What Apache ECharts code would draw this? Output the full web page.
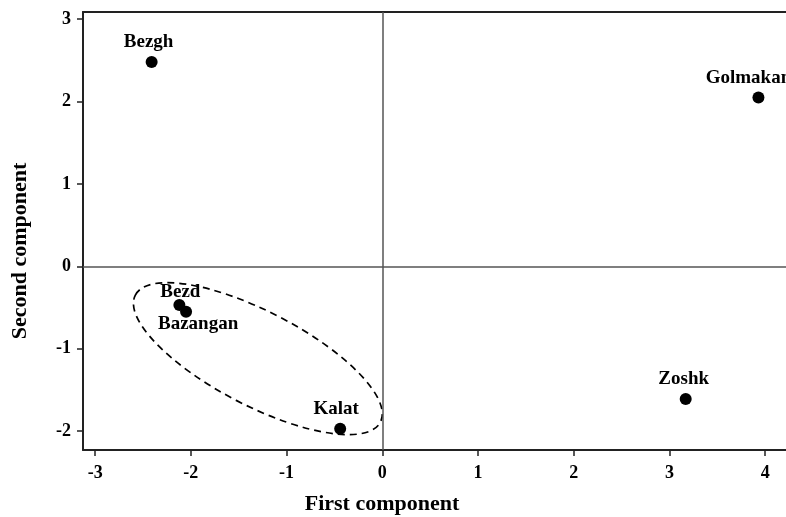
<!DOCTYPE html>
<html>
<head>
<meta charset="utf-8">
<script src="https://cdn.jsdelivr.net/npm/echarts@6/dist/echarts.min.js"></script>
<style>html,body{margin:0;padding:0;background:#fff;}#c{width:786px;height:517px;}</style>
</head>
<body>
<div id="c"></div>
<script>
const sites = ['Bezgh', 'Golmakan', 'Zoshk', 'Kalat', 'Bezd', 'Bazangan'];
const firstComponent = [-2.41, 3.93, 3.17, -0.44, -2.12, -2.05];
const secondComponent = [2.48, 2.05, -1.61, -1.97, -0.47, -0.55];
const xTicks = [-3, -2, -1, 0, 1, 2, 3, 4];
const yTicks = [-2, -1, 0, 1, 2, 3];
const groupCenter = [-1.30, -1.12];

const FONT = 'Liberation Serif';
const labelCfg = {
  Bezgh: {position: 'top', distance: 4, offset: [-3, 0]},
  Golmakan: {position: 'top', distance: 4, offset: [-10, 0]},
  Zoshk: {position: 'top', distance: 4, offset: [-2, 0]},
  Kalat: {position: 'top', distance: 4, offset: [-4, 0]},
  Bezd: {position: 'top', distance: 0, offset: [1, 2]},
  Bazangan: {position: 'bottom', distance: 0, offset: [12, -3]}
};

const points = sites.map((s, i) => ({
  value: [firstComponent[i], secondComponent[i]],
  name: s,
  label: Object.assign({show: true, formatter: s}, labelCfg[s])
}));

const chart = echarts.init(document.getElementById('c'));
chart.setOption({
  animation: false,
  grid: {left: 83, top: 12, right: 0, bottom: 67},
  xAxis: [{
    type: 'value', min: -3.127, max: 4.218,
    splitLine: {show: false},
    axisLine: {onZero: false, lineStyle: {color: '#222', width: 2}},
    axisTick: {show: true, length: 6, customValues: xTicks, lineStyle: {color: '#222', width: 1.5}},
    axisLabel: {customValues: xTicks, margin: 14, color: '#000', fontFamily: FONT, fontWeight: 'bold', fontSize: 18}
  }, {
    type: 'value', position: 'top', min: -3.127, max: 4.218,
    splitLine: {show: false},
    axisLine: {show: true, onZero: false, lineStyle: {color: '#222', width: 2}},
    axisTick: {show: false},
    axisLabel: {show: false}
  }],
  yAxis: {
    type: 'value', min: -2.229, max: 3.088,
    splitLine: {show: false},
    axisLine: {onZero: false, lineStyle: {color: '#222', width: 2}},
    axisTick: {show: true, length: 6, customValues: yTicks, lineStyle: {color: '#222', width: 1.5}},
    axisLabel: {customValues: yTicks, margin: 12, color: '#000', fontFamily: FONT, fontWeight: 'bold', fontSize: 18}
  },
  series: [
    {
      type: 'scatter',
      symbolSize: 12,
      itemStyle: {color: '#000', opacity: 1},
      label: {color: '#000', fontFamily: FONT, fontWeight: 'bold', fontSize: 19},
      data: points,
      markLine: {
        silent: true, symbol: 'none', label: {show: false},
        lineStyle: {color: '#555', width: 1.5, type: 'solid', opacity: 1},
        data: [{xAxis: 0}, {yAxis: 0}]
      },
      z: 3
    },
    {
      type: 'custom',
      silent: true,
      data: [groupCenter],
      renderItem: function (params, api) {
        const c = api.coord([api.value(0), api.value(1)]);
        return {
          type: 'ellipse',
          x: c[0], y: c[1],
          rotation: -27.4 * Math.PI / 180,
          shape: {cx: 0, cy: 0, rx: 138, ry: 47},
          style: {fill: 'none', stroke: '#000', lineWidth: 1.7, lineDash: [7, 5]}
        };
      },
      z: 2
    }
  ],
  graphic: [
    {type: 'text', x: 382, y: 504, style: {text: 'First component', fontFamily: FONT, fontWeight: 'bold', fontSize: 22, fill: '#000', align: 'center', verticalAlign: 'middle'}},
    {type: 'text', x: 20, y: 251, rotation: Math.PI / 2, style: {text: 'Second component', fontFamily: FONT, fontWeight: 'bold', fontSize: 22, fill: '#000', align: 'center', verticalAlign: 'middle'}}
  ]
});
</script>
</body>
</html>
